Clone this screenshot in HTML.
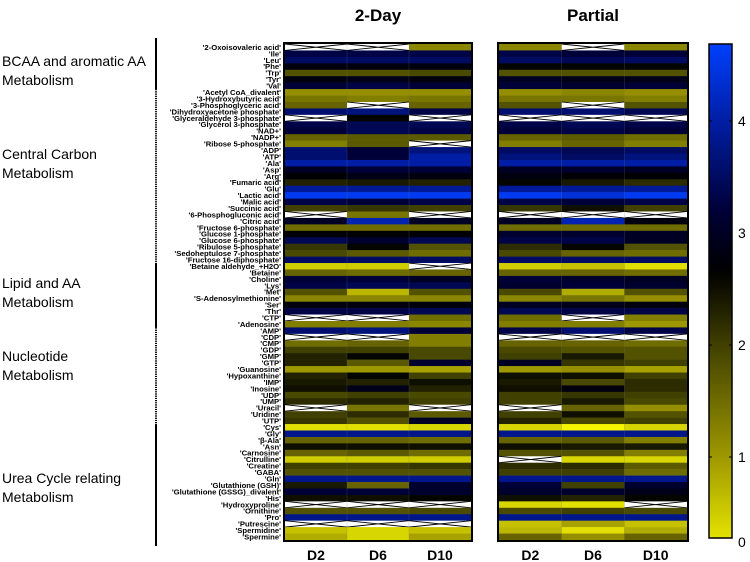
<!DOCTYPE html>
<html><head><meta charset="utf-8"><style>
html,body{margin:0;padding:0;background:#fff;}
svg{display:block;font-family:"Liberation Sans",sans-serif;}
</style></head><body>
<svg id="chart" width="750" height="562" viewBox="0 0 750 562"></svg>
<script>
const metabolites=["'2-Oxoisovaleric acid'","'Ile'","'Leu'","'Phe'","'Trp'","'Tyr'","'Val'","'Acetyl CoA_divalent'","'3-Hydroxybutyric acid'","'3-Phosphoglyceric acid'","'Dihydroxyacetone phosphate'","'Glyceraldehyde 3-phosphate'","'Glycerol 3-phosphate'","'NAD+'","'NADP+'","'Ribose 5-phosphate'","'ADP'","'ATP'","'Ala'","'Asp'","'Arg'","'Fumaric acid'","'Glu'","'Lactic acid'","'Malic acid'","'Succinic acid'","'6-Phosphogluconic acid'","'Citric acid'","'Fructose 6-phosphate'","'Glucose 1-phosphate'","'Glucose 6-phosphate'","'Ribulose 5-phosphate'","'Sedoheptulose 7-phosphate'","'Fructose 16-diphosphate'","'Betaine aldehyde_+H2O'","'Betaine'","'Choline'","'Lys'","'Met'","'S-Adenosylmethionine'","'Ser'","'Thr'","'CTP'","'Adenosine'","'AMP'","'CDP'","'CMP'","'GDP'","'GMP'","'GTP'","'Guanosine'","'Hypoxanthine'","'IMP'","'Inosine'","'UDP'","'UMP'","'Uracil'","'Uridine'","'UTP'","'Cys'","'Gly'","'β-Ala'","'Asn'","'Carnosine'","'Citrulline'","'Creatine'","'GABA'","'Gln'","'Glutathione (GSH)'","'Glutathione (GSSG)_divalent'","'His'","'Hydroxyproline'","'Ornithine'","'Pro'","'Putrescine'","'Spermidine'","'Spermine'"];
const days=["D2","D6","D10"];
const panels=["2-Day","Partial"];
const twoDayValues=[
[null,null,1.2],[3.3,3.3,3.3],[3.5,3.5,3.5],[2.8,2.8,2.8],[1.8,1.8,1.9],[2.8,2.9,2.8],[3.2,3.3,3.2],
[1.1,1.1,1.1],[1.4,1.3,1.4],[1.6,null,1.6],[3.6,3.7,3.3],[null,2.6,null],[3.3,3.4,3.4],[3.2,3.4,3.3],[1.6,1.7,1.7],[1.3,1.7,null],
[3.6,3.2,3.7],[3.6,3.2,4.0],[4.0,4.0,4.0],[3.0,3.2,3.2],[2.7,2.9,2.8],[2.3,2.4,2.3],[3.9,3.9,3.9],[4.6,4.6,4.6],[3.3,3.2,3.3],[2.0,2.1,2.0],
[null,1.4,null],[3.0,4.1,3.0],[1.5,1.5,1.5],[2.7,2.7,2.7],[3.4,3.1,3.4],[2.1,2.6,1.8],[1.9,1.7,1.5],[3.5,3.5,3.5],
[0.5,0.5,null],[1.6,1.5,1.6],[3.2,3.2,3.0],[3.3,3.4,3.4],[1.8,0.7,1.8],[1.2,1.2,1.2],[2.8,2.8,2.8],[3.3,3.3,3.4],[null,null,1.5],[1.3,1.3,1.2],
[3.6,3.7,3.2],[null,null,1.3],[1.5,1.6,1.3],[2.0,2.0,1.9],[2.3,2.6,1.9],[2.3,1.7,3.1],[1.0,1.0,0.9],[2.3,2.6,2.0],[2.4,2.3,2.5],[2.5,2.9,2.3],[1.9,2.0,1.9],[2.2,2.3,2.0],[null,1.4,null],[2.0,2.2,1.7],[2.1,1.8,3.0],
[0.3,0.3,0.4],[3.8,3.8,3.8],[1.6,1.6,1.5],[2.5,2.5,2.5],[1.6,1.7,1.5],[0.5,0.5,0.5],[2.0,2.0,2.1],[1.8,1.8,1.8],[3.8,3.8,3.8],[2.4,1.6,3.1],[3.2,3.2,3.1],[2.5,2.5,2.6],[null,null,null],[1.8,1.8,1.9],[3.8,3.8,3.8],[null,null,null],[0.6,0.4,0.6],[0.8,0.4,0.9]];
const partialValues=[
[1.2,null,1.2],[3.3,3.2,3.2],[3.5,3.4,3.5],[2.6,2.6,2.6],[1.8,1.8,1.8],[3.0,2.9,2.9],[3.2,3.1,3.2],
[1.1,1.2,1.1],[1.4,1.4,1.3],[1.8,null,1.8],[3.6,3.6,3.4],[null,null,null],[3.3,3.4,3.3],[3.2,3.3,3.2],[1.6,1.7,1.5],[1.3,1.6,1.3],
[3.5,3.4,3.5],[3.7,3.5,3.7],[4.0,4.0,4.0],[3.0,3.1,3.0],[2.8,2.7,2.7],[2.6,2.4,2.2],[3.9,3.9,3.9],[4.6,4.4,4.6],[3.3,3.2,3.3],[2.1,2.5,2.0],
[null,null,null],[3.0,4.1,2.8],[1.5,1.5,1.5],[3.1,3.1,3.0],[3.3,3.3,3.0],[2.2,2.6,1.8],[1.9,1.6,1.5],[3.5,3.5,3.5],
[0.5,0.6,0.3],[1.6,1.6,1.5],[3.2,3.1,3.0],[3.1,3.2,3.1],[1.9,0.8,1.8],[1.2,1.4,1.1],[3.0,2.9,2.8],[3.4,3.3,3.3],[1.5,null,1.3],[1.3,1.3,1.0],
[3.3,3.6,3.3],[null,null,null],[1.6,1.6,1.5],[1.9,1.8,1.8],[2.0,2.4,1.8],[3.0,2.1,2.0],[1.0,1.1,0.9],[2.5,2.5,2.0],[2.4,1.9,2.2],[2.5,2.8,2.2],[2.0,2.1,2.0],[2.0,2.4,1.9],[null,1.6,1.1],[2.0,2.5,1.8],[2.3,1.9,2.0],
[0.4,0.1,0.4],[3.8,3.8,3.8],[1.6,1.7,1.3],[2.5,2.4,2.4],[1.8,1.8,1.3],[null,0.4,0.4],[2.2,2.2,1.7],[2.0,2.0,1.5],[3.8,3.8,3.8],[3.2,2.0,3.1],[3.1,3.1,2.9],[2.5,2.3,2.6],[0.4,0.3,null],[1.9,2.0,1.9],[3.8,3.8,3.8],[0.6,0.9,0.6],[0.7,0.3,0.8],[1.6,1.1,1.6]];
const colorTicks=[0,1,2,3,4];
const groupNames=[["BCAA and aromatic AA","Metabolism"],["Central Carbon","Metabolism"],["Lipid and AA","Metabolism"],["Nucleotide","Metabolism"],["Urea Cycle relating","Metabolism"]];
const groupStarts=[0,7,34,44,59];
const groupEnds=[7,34,44,59,77];

const NS="http://www.w3.org/2000/svg";
const svg=document.getElementById('chart');
function mk(tag,attrs,parent){const e=document.createElementNS(NS,tag);for(const k in attrs)e.setAttribute(k,attrs[k]);(parent||svg).appendChild(e);return e;}
const top0=44,bot0=540,rowH=(bot0-top0)/metabolites.length;
const yRow=i=>top0+i*rowH;
const panelX=[285,499],panelW=[186,188];
const stops=[[0,[255,255,0]],[1,[158,152,0]],[2,[64,64,0]],[2.65,[0,0,0]],[3.2,[0,0,56]],[4,[0,30,165]],[4.7,[0,64,255]]];
function color(v){
  if(v<=stops[0][0])return 'rgb('+stops[0][1]+')';
  for(let i=1;i<stops.length;i++){if(v<=stops[i][0]){const a=stops[i-1],b=stops[i];const t=(v-a[0])/(b[0]-a[0]);const c=a[1].map((x,j)=>Math.round(x+(b[1][j]-x)*t));return 'rgb('+c+')';}}
  return 'rgb('+stops[stops.length-1][1]+')';
}
panels.forEach((p,pi)=>{
  const t=mk('text',{x:panelX[pi]+panelW[pi]/2,y:21,'text-anchor':'middle','font-size':17,'font-weight':'bold'});
  t.textContent=p;
  
  
});
const dataSets=[twoDayValues,partialValues];
dataSets.forEach((ds,pi)=>{
  const g=mk('g',{});
  
  
  const cw=panelW[pi]/3;
  ds.forEach((row,ri)=>{
    row.forEach((v,ci)=>{
      const x=panelX[pi]+ci*cw,y=yRow(ri);
      if(v===null){
        const r=mk('rect',{x:x,y:y,width:cw,height:rowH+0.3,fill:'#fff'},g);
        
        
        mk('path',{d:`M${x},${y}L${x+cw},${y+rowH}M${x},${y+rowH}L${x+cw},${y}`,stroke:'#000','stroke-width':0.9},g);
      }else{
        const r=mk('rect',{x:x,y:y,width:cw+0.3,height:rowH+0.3,fill:color(v)},g);
        
        
      }
    });
  });
  for(let c=1;c<3;c++)mk('line',{x1:panelX[pi]+c*cw,x2:panelX[pi]+c*cw,y1:top0,y2:bot0,stroke:'rgba(120,120,120,0.35)','stroke-width':0.6},g);
  mk('rect',{x:panelX[pi]-1,y:top0-1,width:panelW[pi]+2,height:bot0-top0+2,fill:'none',stroke:'#000','stroke-width':2},g);
  days.forEach((d,ci)=>{
    const t=mk('text',{x:panelX[pi]+ci*cw+cw/2,y:560,'text-anchor':'middle','font-size':14,'font-weight':'bold'});
    t.textContent=d;
    
    
  });
});
metabolites.forEach((m,i)=>{
  const t=mk('text',{x:281,y:yRow(i)+rowH/2+2.7,'text-anchor':'end','font-size':7.7,'font-weight':'bold'});
  t.textContent=m;
  
  
});
groupNames.forEach((gn,gi)=>{
  const y1=gi===0?38:yRow(groupStarts[gi]),y2=gi===4?546:yRow(groupEnds[gi]);
  const dashed=(gi===1||gi===3);
  const l=mk('line',{x1:156,x2:156,y1:y1,y2:y2,stroke:'#000','stroke-width':2});
  if(dashed)l.setAttribute('stroke-dasharray','1.2 1');
  
  
  const ym=[61,154,283,356,478][gi];
  gn.forEach((s,k)=>{
    const t=mk('text',{x:2,y:ym+k*19+5,'font-size':14});
    t.textContent=s;
    
    
  });
});
const cbx=709,cbw=23,cbTop=44,cbBot=538;
const cbY=v=>569-112*v;
const defs=mk('defs',{});
const grad=mk('linearGradient',{id:'cbgrad',x1:0,y1:1,x2:0,y2:0},defs);
const vmin=(569-cbBot)/112,vmax=(569-cbTop)/112;
for(let k=0;k<=40;k++){const v=vmin+(vmax-vmin)*k/40;mk('stop',{offset:k/40,'stop-color':color(v)},grad);}
const cb=mk('rect',{x:cbx,y:cbTop,width:cbw,height:cbBot-cbTop,fill:'url(#cbgrad)',stroke:'#000','stroke-width':1.5});


colorTicks.forEach(v=>{
  const y=v===0?cbBot:cbY(v);
  if(v>0){mk('line',{x1:cbx,x2:cbx+3,y1:y,y2:y,stroke:'#000'});mk('line',{x1:cbx+cbw-3,x2:cbx+cbw,y1:y,y2:y,stroke:'#000'});}
  const t=mk('text',{x:738,y:(v===0?547:y+5),'font-size':14});
  t.textContent=v;
  
  
});
</script>
</body></html>
